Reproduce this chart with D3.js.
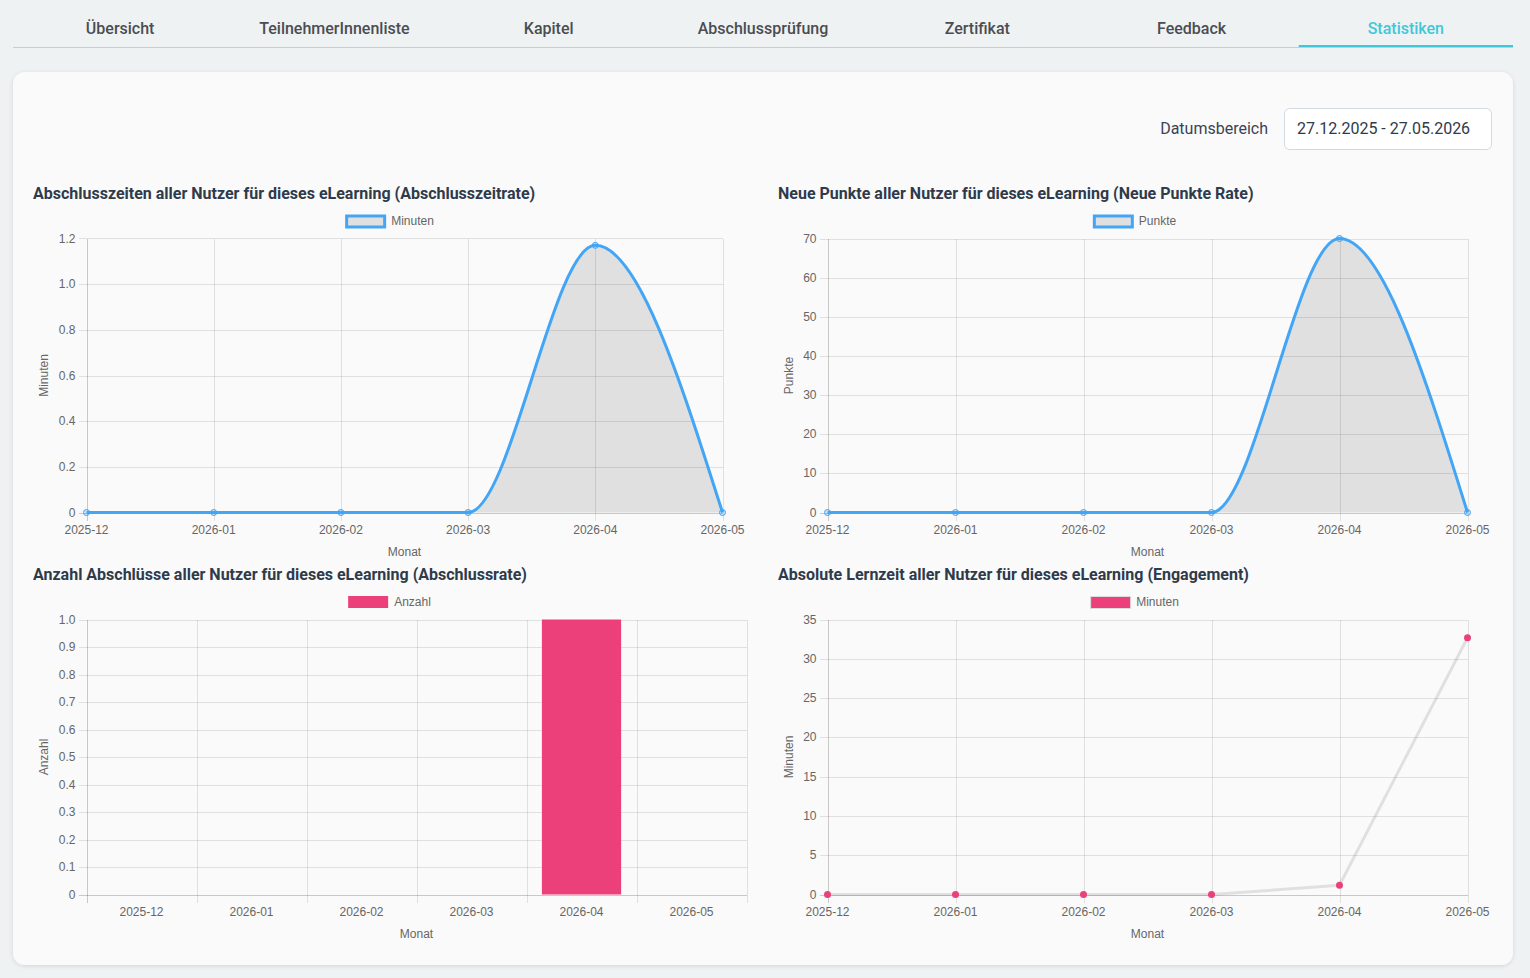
<!DOCTYPE html>
<html lang="de">
<head>
<meta charset="utf-8">
<title>Statistiken</title>
<script src="https://cdn.jsdelivr.net/npm/d3@7"></script>
<style>
  html, body { margin: 0; padding: 0; background: #eff2f3; overflow: hidden; }
  svg { display: block; }
  .tab { font-family: Roboto, "Noto Sans", sans-serif; font-size: 16px; font-weight: 500; fill: #4a4d52; }
  .tab.active { fill: #3fc8d9; }
  .chart-title { font-family: Roboto, "Noto Sans", sans-serif; font-size: 16px; font-weight: 700; fill: #2f3a4b; }
  .chart-text { font-family: "Liberation Sans", Arial, sans-serif; font-size: 12px; fill: #666; }
  .grid { stroke: rgba(0, 0, 0, 0.1); stroke-width: 1; shape-rendering: crispEdges; }
  .axis-line { stroke: rgba(0, 0, 0, 0.2); stroke-width: 1; shape-rendering: crispEdges; }
</style>
</head>
<body>
<svg id="page"></svg>
<script>
// Data
const tabs = ["Übersicht", "TeilnehmerInnenliste", "Kapitel", "Abschlussprüfung", "Zertifikat", "Feedback", "Statistiken"];
const activeTab = "Statistiken";
const dateRange = "27.12.2025 - 27.05.2026";

const months = ["2025-12", "2026-01", "2026-02", "2026-03", "2026-04", "2026-05"];
const abschlusszeitMinuten = [0, 0, 0, 0, 1.17, 0];
const neuePunkte = [0, 0, 0, 0, 70, 0];
const abschluesseAnzahl = [0, 0, 0, 0, 1, 0];
const lernzeitMinuten = [0, 0, 0, 0, 1.17, 32.67];

const width = 1530;
const height = 978;

const svg = d3.select("#page").attr("width", width).attr("height", height);

// Shadow for the card
const defs = svg.append("defs");
const shadow = defs.append("filter").attr("id", "card-shadow")
  .attr("x", "-5%").attr("y", "-5%").attr("width", "110%").attr("height", "110%");
shadow.append("feDropShadow")
  .attr("dx", 0).attr("dy", 1).attr("stdDeviation", 2)
  .attr("flood-color", "#000").attr("flood-opacity", 0.12);

// Tabs
const tabX = d3.scaleBand().domain(tabs).range([13, 1513]);

svg.append("line")
  .attr("x1", 13).attr("x2", 1513)
  .attr("y1", 47.5).attr("y2", 47.5)
  .attr("stroke", "#c9cdd0").attr("stroke-width", 1);

svg.selectAll(".tab")
  .data(tabs)
  .enter()
  .append("text")
  .attr("class", (d) => (d === activeTab ? "tab active" : "tab"))
  .attr("x", (d) => tabX(d) + tabX.bandwidth() / 2)
  .attr("y", 33.5)
  .attr("text-anchor", "middle")
  .text((d) => d);

svg.append("rect")
  .attr("x", tabX(activeTab))
  .attr("y", 45)
  .attr("width", tabX.bandwidth())
  .attr("height", 2)
  .attr("fill", "#3fc8d9");

// Card
svg.append("rect")
  .attr("x", 13).attr("y", 72)
  .attr("width", 1500).attr("height", 893)
  .attr("rx", 12)
  .attr("fill", "#fafafa")
  .attr("filter", "url(#card-shadow)");

// Date range picker
svg.append("text")
  .attr("class", "tab")
  .attr("x", 1268).attr("y", 133.5)
  .attr("text-anchor", "end")
  .style("font-weight", 400)
  .style("fill", "#3a4354")
  .text("Datumsbereich");

svg.append("rect")
  .attr("x", 1284.5).attr("y", 108.5)
  .attr("width", 207).attr("height", 41)
  .attr("rx", 5)
  .attr("fill", "#fff")
  .attr("stroke", "#d3d9e2");

svg.append("text")
  .attr("class", "tab")
  .attr("x", 1297).attr("y", 133.5)
  .style("font-weight", 400)
  .style("fill", "#2f3a4b")
  .text(dateRange);

// Chart definitions
const charts = [
  {
    title: "Abschlusszeiten aller Nutzer für dieses eLearning (Abschlusszeitrate)",
    type: "area",
    values: abschlusszeitMinuten,
    label: "Minuten",
    yTitle: "Minuten",
    yMax: 1.2, yStep: 0.2, decimals: true,
    titleX: 33, titleY: 199,
    left: 33, right: 746,
    plot: { x0: 86.5, x1: 722.5, y0: 512.5, y1: 238.5 },
    legendY: 221
  },
  {
    title: "Neue Punkte aller Nutzer für dieses eLearning (Neue Punkte Rate)",
    type: "area",
    values: neuePunkte,
    label: "Punkte",
    yTitle: "Punkte",
    yMax: 70, yStep: 10, decimals: false,
    titleX: 778, titleY: 199,
    left: 778, right: 1491,
    plot: { x0: 827.5, x1: 1467.5, y0: 512.5, y1: 238.5 },
    legendY: 221
  },
  {
    title: "Anzahl Abschlüsse aller Nutzer für dieses eLearning (Abschlussrate)",
    type: "bar",
    values: abschluesseAnzahl,
    label: "Anzahl",
    yTitle: "Anzahl",
    yMax: 1, yStep: 0.1, decimals: true,
    titleX: 33, titleY: 580,
    left: 33, right: 746,
    plot: { x0: 86.5, x1: 746.5, y0: 894.5, y1: 619.5 },
    legendY: 602
  },
  {
    title: "Absolute Lernzeit aller Nutzer für dieses eLearning (Engagement)",
    type: "dots",
    values: lernzeitMinuten,
    label: "Minuten",
    yTitle: "Minuten",
    yMax: 35, yStep: 5, decimals: false,
    titleX: 778, titleY: 580,
    left: 778, right: 1491,
    plot: { x0: 827.5, x1: 1467.5, y0: 894.5, y1: 619.5 },
    legendY: 602
  }
];

charts.forEach(drawChart);

function drawChart(c) {
  const g = svg.append("g");
  const p = c.plot;

  // Title
  g.append("text")
    .attr("class", "chart-title")
    .attr("x", c.titleX)
    .attr("y", c.titleY)
    .text(c.title);

  // Scales
  const y = d3.scaleLinear().domain([0, c.yMax]).range([p.y0, p.y1]);
  const yTicks = d3.range(0, c.yMax + c.yStep / 2, c.yStep);
  const fmt = (d) => (d === 0 ? "0" : c.decimals ? d3.format(".1f")(d) : d3.format("d")(d));

  let x, xLines, xLabelPos;
  if (c.type === "bar") {
    x = d3.scaleBand().domain(months).range([p.x0, p.x1]).paddingInner(0).paddingOuter(0);
    xLines = months.map((m) => x(m)).concat([p.x1]);
    xLabelPos = (m) => x(m) + x.bandwidth() / 2;
  } else {
    x = d3.scalePoint().domain(months).range([p.x0, p.x1]);
    xLines = months.map((m) => x(m));
    xLabelPos = (m) => x(m);
  }

  // Horizontal grid + ticks
  g.selectAll(".hgrid")
    .data(yTicks)
    .enter()
    .append("line")
    .attr("class", (d) => (d === 0 ? "axis-line" : "grid"))
    .attr("x1", p.x0 - 8)
    .attr("x2", p.x1)
    .attr("y1", (d) => Math.round(y(d)) + 0.5)
    .attr("y2", (d) => Math.round(y(d)) + 0.5);

  // Vertical grid + ticks
  g.selectAll(".vgrid")
    .data(xLines)
    .enter()
    .append("line")
    .attr("class", (d, i) => (i === 0 ? "axis-line" : "grid"))
    .attr("x1", (d) => Math.round(d) + 0.5)
    .attr("x2", (d) => Math.round(d) + 0.5)
    .attr("y1", p.y1)
    .attr("y2", p.y0 + 8);

  // Y tick labels
  g.selectAll(".ylab")
    .data(yTicks)
    .enter()
    .append("text")
    .attr("class", "chart-text")
    .attr("x", p.x0 - 11)
    .attr("y", (d) => y(d) + 4)
    .attr("text-anchor", "end")
    .text(fmt);

  // X tick labels
  g.selectAll(".xlab")
    .data(months)
    .enter()
    .append("text")
    .attr("class", "chart-text")
    .attr("x", xLabelPos)
    .attr("y", p.y0 + 21)
    .attr("text-anchor", "middle")
    .text((d) => d);

  // Axis titles
  g.append("text")
    .attr("class", "chart-text")
    .attr("x", (p.x0 + p.x1) / 2)
    .attr("y", p.y0 + 43)
    .attr("text-anchor", "middle")
    .text("Monat");

  g.append("text")
    .attr("class", "chart-text")
    .attr("transform", `translate(${c.left + 15},${(p.y0 + p.y1) / 2}) rotate(-90)`)
    .attr("text-anchor", "middle")
    .text(c.yTitle);

  // Legend
  const legend = g.append("g");
  const labelText = legend.append("text")
    .attr("class", "chart-text")
    .attr("y", c.legendY + 4)
    .text(c.label);
  const labelW = labelText.node().getComputedTextLength();
  const legendW = 40 + 6 + labelW;
  const lx = (c.left + c.right) / 2 - legendW / 2;
  labelText.attr("x", lx + 46);

  const series = months.map((m, i) => ({ m, v: c.values[i] }));

  if (c.type === "area") {
    legend.append("rect")
      .attr("x", lx + 1.5).attr("y", c.legendY - 5)
      .attr("width", 38).attr("height", 11)
      .attr("fill", "#e0e0e0")
      .attr("stroke", "#42a5f5").attr("stroke-width", 3);

    const area = d3.area()
      .x((d) => x(d.m))
      .y0(y(0))
      .y1((d) => y(d.v))
      .curve(d3.curveMonotoneX);
    const line = d3.line()
      .x((d) => x(d.m))
      .y((d) => y(d.v))
      .curve(d3.curveMonotoneX);

    g.append("path")
      .datum(series)
      .attr("d", area)
      .attr("fill", "rgba(0,0,0,0.1)");

    g.append("path")
      .datum(series)
      .attr("d", line)
      .attr("fill", "none")
      .attr("stroke", "#42a5f5")
      .attr("stroke-width", 3);

    g.selectAll(".pt")
      .data(series)
      .enter()
      .append("circle")
      .attr("cx", (d) => x(d.m))
      .attr("cy", (d) => y(d.v))
      .attr("r", 3)
      .attr("fill", "rgba(66,165,245,0.25)")
      .attr("stroke", "#42a5f5")
      .attr("stroke-width", 1);
  } else if (c.type === "bar") {
    legend.append("rect")
      .attr("x", lx).attr("y", c.legendY - 6)
      .attr("width", 40).attr("height", 12)
      .attr("fill", "#ec407a");

    const barW = x.bandwidth() * 0.72;
    g.selectAll(".bar")
      .data(series.filter((d) => d.v > 0))
      .enter()
      .append("rect")
      .attr("x", (d) => x(d.m) + (x.bandwidth() - barW) / 2)
      .attr("y", (d) => y(d.v))
      .attr("width", barW)
      .attr("height", (d) => y(0) - y(d.v))
      .attr("fill", "#ec407a");
  } else {
    legend.append("rect")
      .attr("x", lx + 0.5).attr("y", c.legendY - 5.5)
      .attr("width", 40).attr("height", 12)
      .attr("fill", "#ec407a")
      .attr("stroke", "#dcdcdc").attr("stroke-width", 1);

    const line = d3.line()
      .x((d) => x(d.m))
      .y((d) => y(d.v));

    g.append("path")
      .datum(series)
      .attr("d", line)
      .attr("fill", "none")
      .attr("stroke", "rgba(0,0,0,0.1)")
      .attr("stroke-width", 3);

    g.selectAll(".pt")
      .data(series)
      .enter()
      .append("circle")
      .attr("cx", (d) => x(d.m))
      .attr("cy", (d) => y(d.v))
      .attr("r", 3.5)
      .attr("fill", "#ec407a");
  }
}
</script>
</body>
</html>
